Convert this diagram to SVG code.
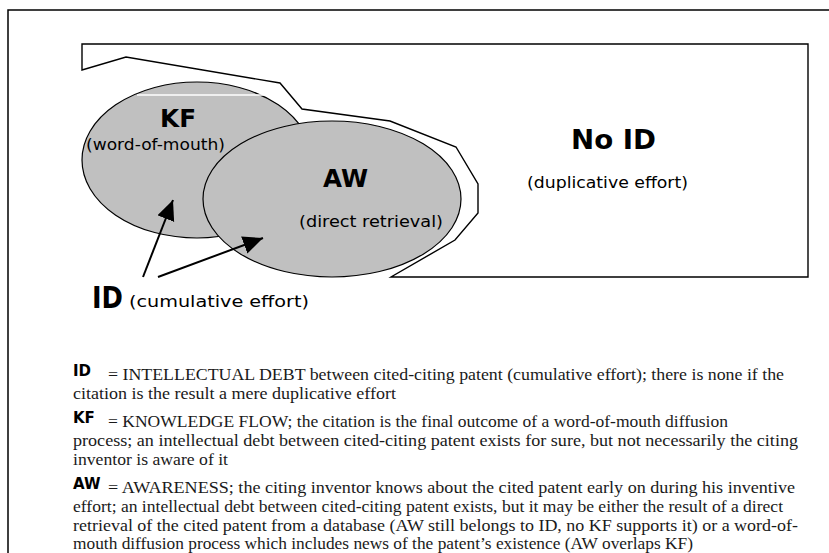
<svg xmlns="http://www.w3.org/2000/svg" width="829" height="553" viewBox="0 0 829 553">
<style>
.lbl{font-family:"DejaVu Sans","Liberation Sans",sans-serif;fill:#000}
.big{font-weight:bold;font-size:24px}
.sub{font-size:15px}
.body{font-family:"Liberation Serif",serif;font-size:16px;fill:#1a1a1a}
.key{font-family:"DejaVu Sans","Liberation Sans",sans-serif;font-weight:bold;font-size:15px;fill:#000}
.ell{fill:#c0c0c0;stroke:#000;stroke-width:1.2}
</style>
<defs>
<marker id="ah" markerUnits="userSpaceOnUse" markerWidth="22" markerHeight="20" refX="20" refY="9" orient="auto">
<path d="M0,0 L20,9 L0,18 z" fill="#000"/>
</marker>
</defs>
<rect x="0" y="0" width="829" height="553" fill="#fff"/>
<rect x="8" y="10" width="900" height="700" fill="none" stroke="#000" stroke-width="1.5"/>
<g id="noid">
<polygon points="82,44 808,44 808,277 391,277 455,240 478,213 478,184 456,147 390,121 302,109 280,83 126,57 82,70" fill="#fff" stroke="#000" stroke-width="1.4"/>
<text class="lbl" x="571" y="149" font-weight="bold" font-size="26" textLength="85" lengthAdjust="spacingAndGlyphs">No ID</text>
<text class="lbl sub" x="527" y="188" textLength="161" lengthAdjust="spacingAndGlyphs">(duplicative effort)</text>
</g>
<g id="kf">
<ellipse class="ell" cx="197" cy="160" rx="115" ry="78"/>
<line x1="137" y1="95" x2="273" y2="95" stroke="#fff" stroke-width="1.5"/>
<text class="lbl big" x="160" y="127" textLength="36" lengthAdjust="spacingAndGlyphs">KF</text>
<text class="lbl sub" x="86" y="150" textLength="139" lengthAdjust="spacingAndGlyphs">(word-of-mouth)</text>
</g>
<g id="aw">
<ellipse class="ell" cx="332" cy="199" rx="129" ry="78"/>
<text class="lbl big" x="323" y="187" textLength="45" lengthAdjust="spacingAndGlyphs">AW</text>
<text class="lbl sub" x="299" y="227" textLength="144" lengthAdjust="spacingAndGlyphs">(direct retrieval)</text>
</g>
<g id="id">
<text class="lbl" x="92" y="308" font-weight="bold" font-size="30" textLength="31" lengthAdjust="spacingAndGlyphs">ID</text>
<text class="lbl" x="129" y="307" font-size="16" textLength="180" lengthAdjust="spacingAndGlyphs">(cumulative effort)</text>
</g>
<g id="connectors" stroke="#000" stroke-width="2" fill="none">
<line x1="143" y1="277" x2="173" y2="200" marker-end="url(#ah)"/>
<line x1="158" y1="277" x2="263" y2="238" marker-end="url(#ah)"/>
</g>
<g id="legend">
<text class="key" x="73" y="376">ID</text>
<text class="body" x="108" y="380" textLength="676" lengthAdjust="spacingAndGlyphs">= INTELLECTUAL DEBT between cited-citing patent (cumulative effort); there is none if the</text>
<text class="body" x="73" y="399" textLength="323" lengthAdjust="spacingAndGlyphs">citation is the result a mere duplicative effort</text>
<text class="key" x="73" y="423">KF</text>
<text class="body" x="108" y="427" textLength="620" lengthAdjust="spacingAndGlyphs">=  KNOWLEDGE FLOW; the citation is the final outcome of a word-of-mouth diffusion</text>
<text class="body" x="73" y="446" textLength="725" lengthAdjust="spacingAndGlyphs">process; an intellectual debt between cited-citing patent exists for sure, but not necessarily the citing</text>
<text class="body" x="73" y="465" textLength="155" lengthAdjust="spacingAndGlyphs">inventor is aware of it</text>
<text class="key" x="73" y="489">AW</text>
<text class="body" x="108" y="493" textLength="687" lengthAdjust="spacingAndGlyphs">=  AWARENESS; the citing inventor knows about the cited patent early on during his inventive</text>
<text class="body" x="73" y="512" textLength="710" lengthAdjust="spacingAndGlyphs">effort; an intellectual debt between cited-citing patent exists, but it may be either the result  of a direct</text>
<text class="body" x="73" y="531" textLength="725" lengthAdjust="spacingAndGlyphs">retrieval of the cited patent from a database (AW still belongs to ID, no KF supports it) or a word-of-</text>
<text class="body" x="73" y="549" textLength="620" lengthAdjust="spacingAndGlyphs">mouth diffusion process which includes news of the patent’s existence (AW overlaps KF)</text>
</g>
</svg>
